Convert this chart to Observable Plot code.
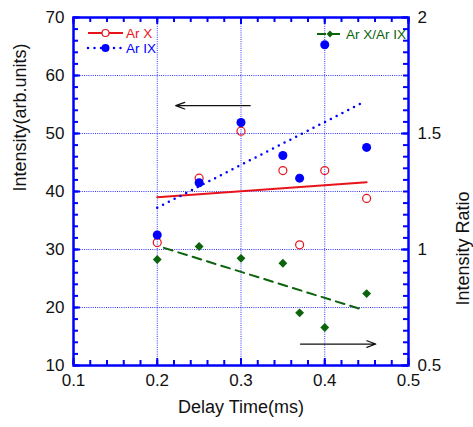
<!DOCTYPE html>
<html><head><meta charset="utf-8">
<script src="https://cdn.jsdelivr.net/npm/d3@7"></script>
<script src="https://cdn.jsdelivr.net/npm/@observablehq/plot@0.6"></script>
<style>
body{margin:0;background:#fff;font-family:"Liberation Sans",Arial,sans-serif}
#chart{position:relative;width:473px;height:427px}
#legend{position:absolute;left:0;top:0;pointer-events:none}
</style>
</head><body><div id="chart"></div>
<script>
// Data
const delay = [0.2, 0.25, 0.3, 0.35, 0.37, 0.4, 0.45];
const arX   = [31.2, 42.3, 50.4, 43.6, 30.8, 43.6, 38.8];
const arIX  = [32.5, 41.5, 51.9, 46.2, 42.3, 65.3, 47.6];
const ratio = [0.957, 1.013, 0.962, 0.941, 0.727, 0.664, 0.810];
// linear fit lines (end points)
const fitArXx = [0.2, 0.45],   fitArXy = [39.0, 41.6];
const fitArIXx = [0.2, 0.445], fitArIXy = [37.2, 55.3];
const fitRatioX = [0.208, 0.443], fitRatioY = [1.007, 0.743];
// annotation arrows (x from -> to, y on left scale)
const arrowX1 = [0.311, 0.371], arrowX2 = [0.222, 0.461], arrowY = [54.8, 13.7];
// ticks
const xTicks = [0.1, 0.2, 0.3, 0.4, 0.5];
const xMinor = d3.range(0.1, 0.5001, 0.02).map(v => +v.toFixed(2));
const yTicks = [10, 20, 30, 40, 50, 60, 70];
const yMinor = d3.range(10, 70.001, 2);
const rTicks = [0.5, 1, 1.5, 2];
const rMinor = d3.range(0.5, 2.0001, 0.05).map(v => +v.toFixed(2));
const xGrid = [0.2, 0.3, 0.4], yGrid = [20, 30, 40, 50, 60];

const W = 473, H = 427, ML = 73, MR = 65, MT = 17, MB = 62;
const IW = W - ML - MR, IH = H - MT - MB;
const toLeft = r => 10 + (r - 0.5) * 40;
const BLUE = "#0000ff", RED = "#e8141c", GREEN = "#0b640b";
const pts = delay.map((d, i) => ({x: d, arX: arX[i], arIX: arIX[i], ratio: ratio[i]}));
const line = (xs, ys) => xs.map((x, i) => ({x, y: ys[i]}));
const arrows = arrowX1.map((x1, i) => ({x1, x2: arrowX2[i], y: arrowY[i]}));
const MAJ = 7, MIN = 5;

const chart = Plot.plot({
  width: W, height: H,
  marginLeft: ML, marginRight: MR, marginTop: MT, marginBottom: MB,
  style: {fontFamily: "Liberation Sans, Arial, sans-serif", background: "white", overflow: "visible"},
  x: {domain: [0.1, 0.5]},
  y: {domain: [10, 70]},
  marks: [
    Plot.gridX(xGrid, {stroke: BLUE, strokeOpacity: 1, strokeWidth: 0.8, strokeDasharray: "1,1.2"}),
    Plot.gridY(yGrid, {stroke: BLUE, strokeOpacity: 1, strokeWidth: 0.8, strokeDasharray: "1,1.2"}),
    // tick labels
    Plot.axisX(xTicks, {anchor: "bottom", tickSize: 0, tickPadding: 8, fontSize: 17, tickFormat: d => String(d), color: "#111"}),
    Plot.axisY(yTicks, {anchor: "left", tickSize: 0, tickPadding: 9, fontSize: 17, tickFormat: d => String(d), color: "#111"}),
    Plot.axisY(rTicks.map(toLeft), {anchor: "right", tickSize: 0, tickPadding: 9, fontSize: 17,
      tickFormat: d => String(+((d - 10) / 40 + 0.5).toFixed(2)), color: "#111"}),
    // inward ticks (bottom, top, left, right)
    Plot.ruleX(xTicks, {insetTop: IH - MAJ, stroke: BLUE, strokeWidth: 2}),
    Plot.ruleX(xMinor, {insetTop: IH - MIN, stroke: BLUE, strokeWidth: 2}),
    Plot.ruleX(xTicks, {insetBottom: IH - MAJ, stroke: BLUE, strokeWidth: 2}),
    Plot.ruleX(xMinor, {insetBottom: IH - MIN, stroke: BLUE, strokeWidth: 2}),
    Plot.ruleY(yTicks, {insetRight: IW - MAJ, stroke: BLUE, strokeWidth: 2}),
    Plot.ruleY(yMinor, {insetRight: IW - MIN, stroke: BLUE, strokeWidth: 2}),
    Plot.ruleY(rTicks.map(toLeft), {insetLeft: IW - MAJ, stroke: BLUE, strokeWidth: 2}),
    Plot.ruleY(rMinor.map(toLeft), {insetLeft: IW - MIN, stroke: BLUE, strokeWidth: 2}),
    // axis titles
    Plot.text(["Delay Time(ms)"], {frameAnchor: "bottom", dy: 47, fontSize: 18, fill: "#111"}),
    Plot.text(["Intensity(arb.units)"], {frameAnchor: "left", dx: -53, rotate: -90, fontSize: 18, fill: "#111"}),
    Plot.text(["Intensity Ratio"], {frameAnchor: "right", dx: 55, rotate: -90, fontSize: 18, fill: "#111"}),
    // fit lines
    Plot.line(line(fitArXx, fitArXy), {x: "x", y: "y", stroke: RED, strokeWidth: 2}),
    Plot.line(line(fitArIXx, fitArIXy), {x: "x", y: "y", stroke: BLUE, strokeWidth: 2.5, strokeDasharray: "0,6.5", strokeLinecap: "round"}),
    Plot.line(line(fitRatioX, fitRatioY), {x: "x", y: d => toLeft(d.y), stroke: GREEN, strokeWidth: 2, strokeDasharray: "9,6"}),
    // points
    Plot.dot(pts, {x: "x", y: "arX", r: 4, stroke: RED, strokeWidth: 1.2, fill: "none"}),
    Plot.dot(pts, {x: "x", y: "arIX", r: 4.5, fill: BLUE}),
    Plot.dot(pts, {x: "x", y: d => toLeft(d.ratio), r: 4, symbol: "diamond2", fill: GREEN}),
    // arrows
    Plot.arrow(arrows, {x1: "x1", x2: "x2", y1: "y", y2: "y", stroke: "#111", strokeWidth: 1.2, headLength: 12, headAngle: 40}),
    Plot.frame({stroke: BLUE, strokeWidth: 2.5})
  ]
});
document.getElementById("chart").appendChild(chart);

// legend overlay
const leg = d3.select("#chart").append("svg").attr("id", "legend").attr("width", W).attr("height", H)
  .style("font-family", "Liberation Sans, Arial, sans-serif");
const items = [
  {x: 88, y: 33, len: 35, color: RED, dash: null, w: 2, sym: "open", label: "Ar X"},
  {x: 88, y: 48, len: 35, color: BLUE, dash: "0,6.5", w: 2.5, sym: "fill", label: "Ar IX"},
  {x: 317, y: 34, len: 26, color: GREEN, dash: "9,5", w: 2, sym: "diamond", label: "Ar X/Ar IX"}
];
for (const it of items) {
  leg.append("line").attr("x1", it.x).attr("x2", it.x + it.len).attr("y1", it.y).attr("y2", it.y)
    .attr("stroke", it.color).attr("stroke-width", it.w).attr("stroke-dasharray", it.dash)
    .attr("stroke-linecap", it.dash && it.dash.startsWith("0") ? "round" : null);
  const cx = it.x + it.len / 2;
  if (it.sym === "open") leg.append("circle").attr("cx", cx).attr("cy", it.y).attr("r", 3.5).attr("fill", "white").attr("stroke", it.color).attr("stroke-width", 1.2);
  if (it.sym === "fill") leg.append("circle").attr("cx", cx).attr("cy", it.y).attr("r", 4).attr("fill", it.color);
  if (it.sym === "diamond") leg.append("path").attr("d", d3.symbol(d3.symbolDiamond2, 30)()).attr("transform", `translate(${cx},${it.y})`).attr("fill", it.color);
  leg.append("text").attr("x", it.x + it.len + 3).attr("y", it.y).attr("dy", "0.35em").attr("font-size", 13.5).attr("fill", it.color).text(it.label);
}
</script>
</body></html>
